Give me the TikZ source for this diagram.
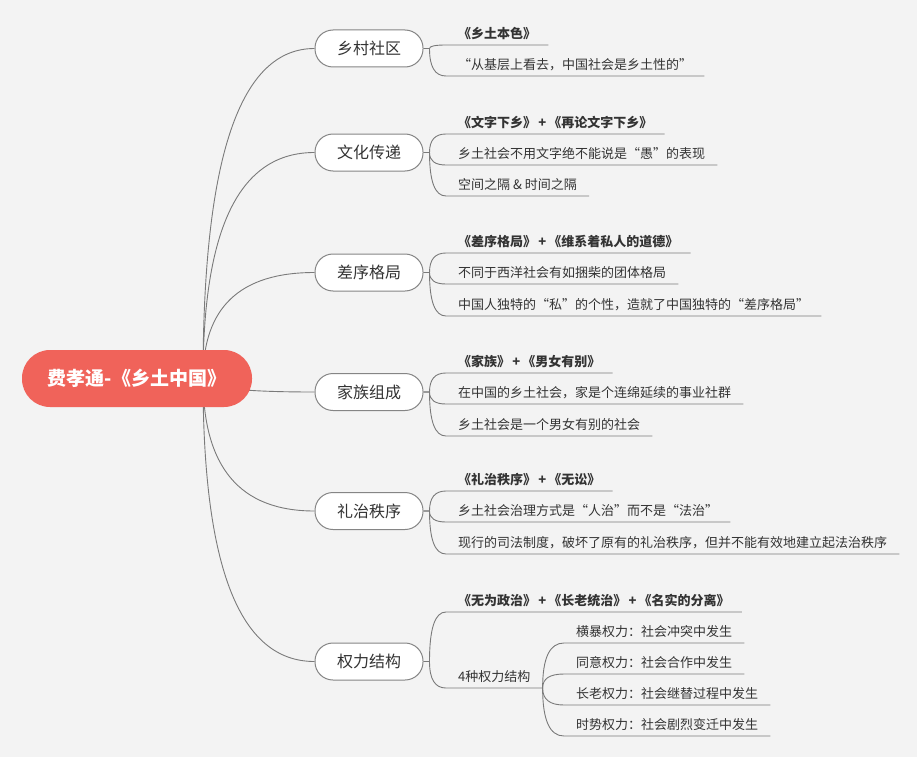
\documentclass[tikz,border=0pt]{standalone}
\usepackage{fontspec}
\setmainfont{Noto Sans CJK SC}
\usetikzlibrary{calc,backgrounds}

\definecolor{paper}{HTML}{F3F3F3}
\definecolor{coral}{HTML}{F0635A}
\definecolor{ink}{HTML}{333333}
\colorlet{line gray}{black!52}
\colorlet{box edge}{black!48}
\tikzset{
  rootnode/.style={fill=coral, text=white, rounded corners=28pt, minimum width=230pt, minimum height=57pt, font=\fontsize{19}{22}\selectfont\bfseries},
  topic/.style={draw=box edge, fill=white, line width=1pt, rounded corners=18pt, minimum width=108pt, minimum height=37pt, text=ink, font=\fontsize{16}{19}\selectfont}
  }
\tikzstyle{leaf} = [anchor=south west, inner xsep=12pt, inner ysep=4pt, text height=10pt, text depth=2.5pt, text=ink, font=\fontsize{13}{15}\selectfont]
\tikzstyle{link} = [draw=line gray, line width=0.9pt]
% bend from a start point into a horizontal end
\newcommand\elbow[2]{.. controls ($(#1)!.67!(#1|-#2)$) and ($(#2)!.67!(#1|-#2)$) .. (#2)}

\begin{document}
\begin{tikzpicture}[x=1pt, y=-1pt]
    \useasboundingbox (0,0) rectangle (917,757);

    % The central topic
    \node[rootnode] (root) at (137,378.5) {费孝通-《乡土中国》};

    % the main branches
    \foreach \y/\name/\txt in {48.5/village/乡村社区, 152.5/script/文化传递, 272.5/pattern/差序格局,
        392/clan/家族组成, 511/rite/礼治秩序, 661.5/power/权力结构}
      \node[topic] (\name) at (369,\y) {\txt};

    % the notes under each branch
    \foreach \y/\name/\txt in {
        45/village1/\textbf{《乡土本色》},
        76/village2/“从基层上看去，中国社会是乡土性的”,
        134/script1/\textbf{《文字下乡》\,+\,《再论文字下乡》},
        165/script2/乡土社会不用文字绝不能说是“愚”的表现,
        196/script3/空间之隔 \& 时间之隔,
        253/pattern1/\textbf{《差序格局》\,+\,《维系着私人的道德》},
        284/pattern2/不同于西洋社会有如捆柴的团体格局,
        316/pattern3/中国人独特的“私”的个性，造就了中国独特的“差序格局”,
        373/clan1/\textbf{《家族》\,+\,《男女有别》},
        404/clan2/在中国的乡土社会，家是个连绵延续的事业社群,
        436/clan3/乡土社会是一个男女有别的社会,
        491/rite1/\textbf{《礼治秩序》\,+\,《无讼》},
        522/rite2/乡土社会治理方式是“人治”而不是“法治”,
        554/rite3/现行的司法制度，破坏了原有的礼治秩序，但并不能有效地建立起法治秩序,
        612/power1/\textbf{《无为政治》\,+\,《长老统治》\,+\,《名实的分离》},
        688/power2/4种权力结构}
      \node[leaf] (\name) at (446,\y) {\txt};

    % the four kinds of power
    \foreach \y/\name/\txt in {643/power21/横暴权力：社会冲突中发生, 674/power22/同意权力：社会合作中发生,
        705/power23/长老权力：社会继替过程中发生, 736/power24/时势权力：社会剧烈变迁中发生}
      \node[leaf] (\name) at (564,\y) {\txt};

    \begin{pgfonlayer}{background}
      \fill[paper] (0,0) rectangle (917,757);

      % root to branches
      \coordinate (hub) at ([xshift=66pt]root.center);
      \foreach \sink in {village, script, pattern, clan, rite, power}
        \path[link] (hub) \elbow{hub}{\sink.west};

      % branches to notes, each note underlined
      \foreach \source/\sink in {village/village1, village/village2, script/script1, script/script2, script/script3,
          pattern/pattern1, pattern/pattern2, pattern/pattern3, clan/clan1, clan/clan2, clan/clan3,
          rite/rite1, rite/rite2, rite/rite3, power/power1, power/power2}
        \path[link] (\source.east) -- ++(6,0) coordinate (fork) \elbow{fork}{\sink.south west} -- (\sink.south east);

      \foreach \sink in {power21, power22, power23, power24}
        \path[link] (power2.south east) \elbow{power2.south east}{\sink.south west} -- (\sink.south east);
    \end{pgfonlayer}
\end{tikzpicture}
\end{document}
